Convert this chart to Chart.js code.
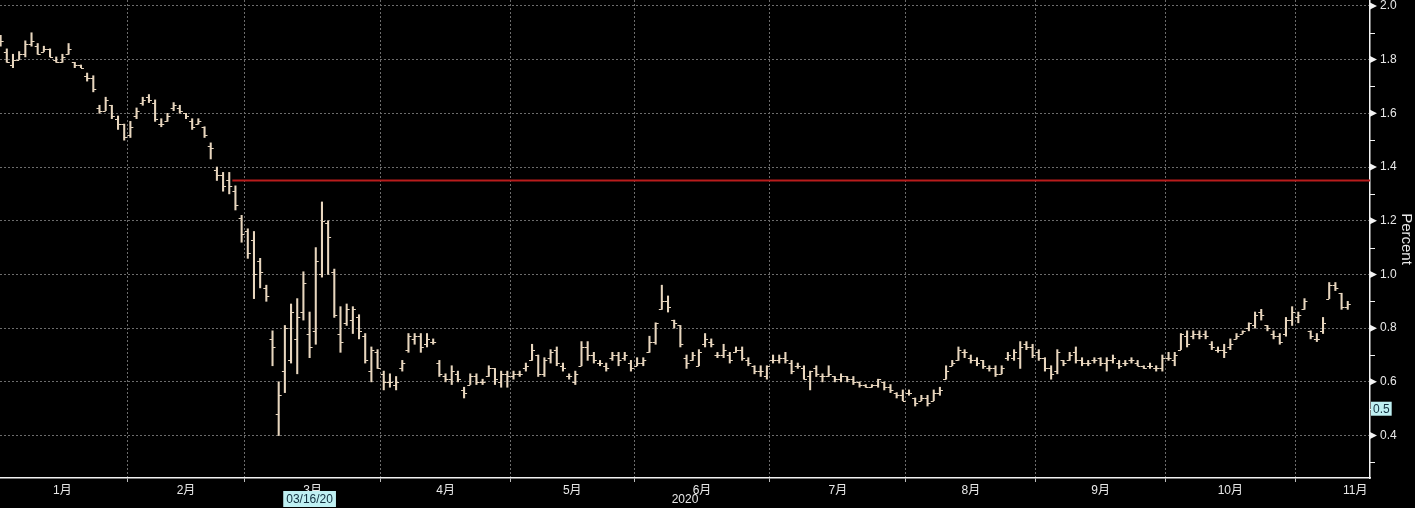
<!DOCTYPE html>
<html>
<head>
<meta charset="utf-8">
<script src="https://cdn.jsdelivr.net/npm/chart.js@4.4.0/dist/chart.umd.min.js"></script>
<style>
  html, body { margin: 0; padding: 0; background: #000; }
  #wrap { width: 1415px; height: 508px; }
</style>
</head>
<body>
<div id="wrap"><canvas id="myChart" width="1415" height="508"></canvas></div>
<script>
// months on the x axis and how many trading days each one holds
const monthLabels = ['1月', '2月', '3月', '4月', '5月', '6月', '7月', '8月', '9月', '10月', '11月'];
const barsPerMonth = [21, 19, 22, 21, 20, 22, 22, 21, 21, 21, 9];

// daily bars (percent), one row per month
const openVals = [
  1.87, 1.83, 1.78, 1.80, 1.82, 1.86, 1.85, 1.83, 1.84, 1.80, 1.79, 1.82, 1.79, 1.78, 1.74, 1.73, 1.62, 1.61, 1.63, 1.58, 1.56,
  1.52, 1.59, 1.64, 1.66, 1.64, 1.56, 1.57, 1.62, 1.62, 1.60, 1.57, 1.56, 1.55, 1.48, 1.39, 1.37, 1.35, 1.31, 1.21,
  1.16, 1.13, 1.05, 0.95, 0.76, 0.48, 0.64, 0.68, 0.76, 0.86, 0.78, 0.79, 1.00, 1.19, 1.01, 0.78, 0.82, 0.83, 0.84, 0.77, 0.64, 0.71,
  0.63, 0.60, 0.59, 0.65, 0.72, 0.76, 0.77, 0.74, 0.75, 0.67, 0.62, 0.61, 0.63, 0.57, 0.59, 0.62, 0.60, 0.62, 0.65, 0.60, 0.63,
  0.62, 0.63, 0.65, 0.68, 0.70, 0.63, 0.69, 0.72, 0.66, 0.62, 0.60, 0.66, 0.73, 0.70, 0.67, 0.66, 0.69, 0.70, 0.69, 0.67,
  0.66, 0.67, 0.71, 0.75, 0.87, 0.90, 0.83, 0.81, 0.69, 0.68, 0.66, 0.74, 0.75, 0.70, 0.70, 0.70, 0.71, 0.72, 0.68, 0.66, 0.64, 0.62,
  0.68, 0.68, 0.69, 0.67, 0.66, 0.65, 0.62, 0.65, 0.62, 0.62, 0.62, 0.61, 0.62, 0.61, 0.60, 0.59, 0.58, 0.59, 0.60, 0.58, 0.56, 0.55,
  0.56, 0.54, 0.53, 0.54, 0.53, 0.56, 0.61, 0.66, 0.68, 0.71, 0.69, 0.68, 0.68, 0.65, 0.65, 0.63, 0.69, 0.69, 0.69, 0.74, 0.73,
  0.71, 0.69, 0.65, 0.64, 0.68, 0.68, 0.71, 0.68, 0.67, 0.68, 0.69, 0.67, 0.68, 0.67, 0.67, 0.68, 0.67, 0.66, 0.66, 0.65, 0.65,
  0.69, 0.68, 0.72, 0.77, 0.77, 0.78, 0.78, 0.74, 0.72, 0.72, 0.73, 0.76, 0.78, 0.80, 0.81, 0.86, 0.81, 0.78, 0.77, 0.78, 0.83,
  0.84, 0.87, 0.79, 0.76, 0.79, 0.91, 0.96, 0.93, 0.88
];
const highVals = [
  1.89, 1.84, 1.82, 1.83, 1.87, 1.90, 1.86, 1.85, 1.84, 1.81, 1.82, 1.86, 1.79, 1.78, 1.75, 1.74, 1.63, 1.66, 1.63, 1.59, 1.56,
  1.57, 1.62, 1.66, 1.67, 1.65, 1.58, 1.60, 1.64, 1.63, 1.60, 1.58, 1.58, 1.55, 1.49, 1.40, 1.38, 1.38, 1.33, 1.22,
  1.17, 1.16, 1.06, 0.96, 0.79, 0.60, 0.81, 0.89, 0.91, 1.01, 0.86, 1.10, 1.27, 1.20, 1.02, 0.88, 0.89, 0.88, 0.85, 0.78, 0.73, 0.72,
  0.64, 0.63, 0.62, 0.68, 0.78, 0.78, 0.78, 0.78, 0.76, 0.68, 0.63, 0.66, 0.64, 0.58, 0.63, 0.63, 0.61, 0.66, 0.65, 0.64, 0.64,
  0.64, 0.64, 0.67, 0.74, 0.70, 0.69, 0.72, 0.73, 0.67, 0.63, 0.64, 0.75, 0.75, 0.71, 0.68, 0.67, 0.71, 0.71, 0.71, 0.68,
  0.69, 0.69, 0.77, 0.82, 0.96, 0.92, 0.83, 0.81, 0.70, 0.71, 0.72, 0.78, 0.76, 0.71, 0.74, 0.71, 0.73, 0.73, 0.69, 0.66, 0.66, 0.66,
  0.70, 0.70, 0.71, 0.68, 0.67, 0.66, 0.64, 0.66, 0.63, 0.66, 0.62, 0.63, 0.62, 0.62, 0.60, 0.59, 0.59, 0.61, 0.60, 0.59, 0.56, 0.57,
  0.57, 0.54, 0.55, 0.55, 0.57, 0.58, 0.66, 0.68, 0.73, 0.72, 0.70, 0.69, 0.68, 0.66, 0.66, 0.66, 0.71, 0.72, 0.75, 0.75, 0.74,
  0.72, 0.69, 0.66, 0.72, 0.68, 0.71, 0.73, 0.69, 0.68, 0.69, 0.69, 0.69, 0.70, 0.68, 0.68, 0.69, 0.68, 0.66, 0.67, 0.66, 0.70,
  0.71, 0.71, 0.78, 0.79, 0.79, 0.79, 0.79, 0.75, 0.73, 0.74, 0.76, 0.78, 0.79, 0.82, 0.86, 0.87, 0.81, 0.79, 0.78, 0.84, 0.88,
  0.86, 0.91, 0.79, 0.78, 0.84, 0.97, 0.97, 0.93, 0.90
];
const lowVals = [
  1.85, 1.79, 1.77, 1.80, 1.81, 1.85, 1.82, 1.83, 1.81, 1.79, 1.79, 1.82, 1.77, 1.77, 1.72, 1.68, 1.60, 1.61, 1.58, 1.54, 1.50,
  1.51, 1.58, 1.63, 1.64, 1.57, 1.55, 1.57, 1.61, 1.60, 1.58, 1.54, 1.56, 1.51, 1.43, 1.35, 1.31, 1.30, 1.24, 1.12,
  1.06, 0.91, 0.95, 0.90, 0.66, 0.40, 0.56, 0.67, 0.63, 0.83, 0.69, 0.74, 0.99, 1.00, 0.84, 0.71, 0.81, 0.78, 0.76, 0.67, 0.60, 0.65,
  0.57, 0.58, 0.57, 0.64, 0.71, 0.74, 0.71, 0.73, 0.74, 0.62, 0.60, 0.59, 0.60, 0.54, 0.59, 0.59, 0.59, 0.62, 0.59, 0.58, 0.58,
  0.61, 0.62, 0.64, 0.68, 0.62, 0.62, 0.67, 0.66, 0.64, 0.61, 0.59, 0.66, 0.68, 0.67, 0.66, 0.64, 0.68, 0.66, 0.68, 0.64,
  0.66, 0.66, 0.71, 0.74, 0.87, 0.86, 0.80, 0.73, 0.65, 0.68, 0.66, 0.73, 0.73, 0.69, 0.69, 0.67, 0.71, 0.68, 0.66, 0.63, 0.62, 0.61,
  0.67, 0.67, 0.67, 0.63, 0.65, 0.61, 0.57, 0.62, 0.60, 0.62, 0.60, 0.60, 0.60, 0.59, 0.58, 0.58, 0.58, 0.58, 0.57, 0.56, 0.54, 0.53,
  0.55, 0.51, 0.53, 0.51, 0.53, 0.55, 0.61, 0.66, 0.68, 0.69, 0.67, 0.66, 0.65, 0.64, 0.62, 0.63, 0.68, 0.68, 0.65, 0.72, 0.69,
  0.68, 0.64, 0.61, 0.63, 0.66, 0.68, 0.67, 0.66, 0.66, 0.67, 0.66, 0.64, 0.67, 0.65, 0.66, 0.67, 0.66, 0.65, 0.65, 0.64, 0.64,
  0.68, 0.66, 0.72, 0.73, 0.76, 0.76, 0.76, 0.72, 0.71, 0.69, 0.72, 0.76, 0.78, 0.79, 0.80, 0.83, 0.79, 0.76, 0.74, 0.77, 0.81,
  0.82, 0.87, 0.76, 0.75, 0.78, 0.91, 0.94, 0.87, 0.87
];
const closeVals = [
  1.87, 1.79, 1.80, 1.82, 1.86, 1.87, 1.82, 1.84, 1.81, 1.79, 1.81, 1.84, 1.78, 1.77, 1.73, 1.69, 1.61, 1.65, 1.59, 1.56, 1.51,
  1.55, 1.61, 1.65, 1.65, 1.58, 1.56, 1.59, 1.63, 1.61, 1.59, 1.55, 1.57, 1.52, 1.47, 1.37, 1.33, 1.33, 1.26, 1.15,
  1.08, 1.00, 1.01, 0.92, 0.73, 0.55, 0.80, 0.86, 0.84, 0.97, 0.73, 1.05, 1.20, 1.14, 0.85, 0.75, 0.87, 0.87, 0.79, 0.68, 0.72, 0.65,
  0.60, 0.60, 0.60, 0.67, 0.77, 0.77, 0.73, 0.76, 0.75, 0.63, 0.61, 0.64, 0.61, 0.56, 0.62, 0.60, 0.60, 0.65, 0.61, 0.63, 0.62,
  0.63, 0.63, 0.66, 0.72, 0.63, 0.68, 0.71, 0.67, 0.65, 0.62, 0.63, 0.73, 0.70, 0.68, 0.67, 0.65, 0.70, 0.68, 0.70, 0.65,
  0.67, 0.68, 0.75, 0.82, 0.90, 0.88, 0.82, 0.74, 0.67, 0.70, 0.71, 0.76, 0.74, 0.70, 0.72, 0.68, 0.72, 0.69, 0.67, 0.64, 0.64, 0.66,
  0.68, 0.69, 0.68, 0.64, 0.66, 0.61, 0.64, 0.63, 0.62, 0.63, 0.61, 0.62, 0.61, 0.60, 0.59, 0.58, 0.59, 0.61, 0.58, 0.57, 0.55, 0.53,
  0.56, 0.52, 0.54, 0.52, 0.56, 0.57, 0.64, 0.67, 0.72, 0.71, 0.68, 0.67, 0.66, 0.65, 0.63, 0.65, 0.70, 0.71, 0.73, 0.73, 0.70,
  0.69, 0.65, 0.63, 0.71, 0.67, 0.70, 0.68, 0.67, 0.67, 0.68, 0.67, 0.68, 0.69, 0.66, 0.67, 0.68, 0.66, 0.65, 0.66, 0.65, 0.69,
  0.69, 0.70, 0.78, 0.74, 0.78, 0.77, 0.77, 0.73, 0.72, 0.71, 0.74, 0.77, 0.79, 0.82, 0.85, 0.85, 0.80, 0.77, 0.75, 0.83, 0.86,
  0.85, 0.90, 0.77, 0.76, 0.82, 0.96, 0.95, 0.88, 0.89
];

// y axis labels, reference level and highlighted values
const yTickValues = [0.4, 0.6, 0.8, 1.0, 1.2, 1.4, 1.6, 1.8, 2.0];
const refLevel = 1.35;
const refStartBar = 37.5;
const markedBar = 50;
const markedDate = '03/16/20';
const markedLevel = 0.5;
const yearLabel = '2020';

const FONT = "'Liberation Sans', 'Noto Sans CJK SC', sans-serif";
const TEXT = '#e8e8e8';
const GRID = '#6c6c6c';
const AXIS = '#f2f2f2';
const BAR = 'rgb(232, 214, 190)';
const HILITE = '#bff0f2';
const xMin = -0.1, xMax = 221.6;
const yMin = 0.242, yMax = 2.022;

// month boundaries get a grid line, month middles get the label
const xTicks = [];
let first = 0;
barsPerMonth.forEach((n, m) => {
    if (m > 0) xTicks.push({ value: first - 0.5, label: '', boundary: true });
    let mid = (first + first + n - 1) / 2;
    if (m === barsPerMonth.length - 1) mid = Math.max(mid, xMax - 2.4);
    xTicks.push({ value: mid, label: monthLabels[m], boundary: false });
    first += n;
});

const rangeData = highVals.map((h, i) => ({ x: i, y: [lowVals[i], h] }));

// open tick to the left, close tick to the right
const ohlcTicks = {
    id: 'ohlcTicks',
    afterDatasetsDraw(chart) {
        const { ctx, scales: { x, y } } = chart;
        ctx.save();
        ctx.strokeStyle = BAR;
        ctx.lineWidth = 1;
        ctx.beginPath();
        openVals.forEach((o, i) => {
            const px = x.getPixelForValue(i);
            const yo = Math.round(y.getPixelForValue(o)) + 0.5;
            const yc = Math.round(y.getPixelForValue(closeVals[i])) + 0.5;
            ctx.moveTo(px - 3, yo); ctx.lineTo(px, yo);
            ctx.moveTo(px, yc); ctx.lineTo(px + 3, yc);
        });
        ctx.stroke();
        ctx.restore();
    }
};

// tick flags on the y axis, highlighted value and date, year
const axisMarks = {
    id: 'axisMarks',
    afterDraw(chart) {
        const { ctx, scales: { x, y } } = chart;
        const ax = y.left;
        ctx.save();
        ctx.fillStyle = AXIS;
        ctx.strokeStyle = AXIS;
        ctx.lineWidth = 1;
        yTickValues.forEach(v => {
            const py = y.getPixelForValue(v);
            ctx.beginPath();
            ctx.moveTo(ax, py - 3.5);
            ctx.lineTo(ax + 7, py);
            ctx.lineTo(ax, py + 3.5);
            ctx.closePath();
            ctx.fill();
            const pm = Math.round(y.getPixelForValue(v - 0.1)) + 0.5;
            ctx.beginPath();
            ctx.moveTo(ax, pm);
            ctx.lineTo(ax + 5, pm);
            ctx.stroke();
        });

        ctx.font = '12px ' + FONT;
        ctx.textBaseline = 'middle';
        ctx.textAlign = 'center';

        // highlighted level on the y axis
        const ly = y.getPixelForValue(markedLevel);
        const lt = markedLevel.toFixed(1);
        const lw = ctx.measureText(lt).width + 4;
        ctx.fillStyle = HILITE;
        ctx.fillRect(ax + 1, ly - 7, lw, 14);
        ctx.fillStyle = '#123040';
        ctx.fillText(lt, ax + 1 + lw / 2, ly + 0.5);

        // highlighted date under the x axis
        const dx = x.getPixelForValue(markedBar);
        const dw = ctx.measureText(markedDate).width + 6;
        ctx.fillStyle = HILITE;
        ctx.fillRect(dx - dw / 2, x.top + 13, dw, 16);
        ctx.fillStyle = '#123040';
        ctx.fillText(markedDate, dx, x.top + 21.5);

        // year under the middle of the axis
        ctx.fillStyle = TEXT;
        ctx.fillText(yearLabel, (x.left + x.right) / 2, x.top + 22);
        ctx.restore();
    }
};

const ctx = document.getElementById('myChart').getContext('2d');
const myChart = new Chart(ctx, {
    type: 'bar',
    data: {
        datasets: [
            {
                type: 'line',
                data: [{ x: refStartBar, y: refLevel }, { x: xMax, y: refLevel }],
                borderColor: 'rgb(185, 28, 28)',
                borderWidth: 2,
                pointRadius: 0,
                order: 2
            },
            {
                data: rangeData,
                backgroundColor: BAR,
                borderWidth: 0,
                barThickness: 1.4,
                order: 1
            }
        ]
    },
    options: {
        responsive: false,
        animation: false,
        layout: { padding: 0 },
        plugins: { legend: { display: false }, tooltip: { enabled: false } },
        scales: {
            x: {
                type: 'linear',
                offset: false,
                min: xMin,
                max: xMax,
                afterBuildTicks: s => { s.ticks = xTicks.map(t => Object.assign({}, t)); },
                afterFit: s => { s.height = 30; s.paddingLeft = 0; s.paddingRight = 0; },
                ticks: {
                    autoSkip: false,
                    maxRotation: 0,
                    color: TEXT,
                    font: { family: FONT, size: 12 },
                    padding: 1,
                    callback: (v, i, ts) => ts[i].label
                },
                grid: {
                    offset: false,
                    color: c => (c.tick && c.tick.boundary) ? GRID : 'rgba(0,0,0,0)',
                    tickColor: c => (c.tick && c.tick.boundary) ? '#bbbbbb' : 'rgba(0,0,0,0)',
                    tickLength: 4,
                    lineWidth: 1
                },
                border: { color: AXIS, width: 1.5, dash: [2, 2] }
            },
            y: {
                type: 'linear',
                position: 'right',
                min: yMin,
                max: yMax,
                bounds: 'data',
                afterBuildTicks: s => { s.ticks = yTickValues.map(v => ({ value: v })); },
                afterFit: s => { s.width = 45; s.paddingTop = 0; s.paddingBottom = 0; },
                ticks: {
                    color: TEXT,
                    font: { family: FONT, size: 12 },
                    padding: 10,
                    callback: v => v.toFixed(1)
                },
                grid: { color: GRID, drawTicks: false, lineWidth: 1 },
                border: { color: AXIS, width: 1.5, dash: [2, 2] },
                title: {
                    display: true,
                    text: 'Percent',
                    color: TEXT,
                    font: { family: FONT, size: 15 },
                    padding: 0
                }
            }
        }
    },
    plugins: [ohlcTicks, axisMarks]
});
</script>
</body>
</html>
